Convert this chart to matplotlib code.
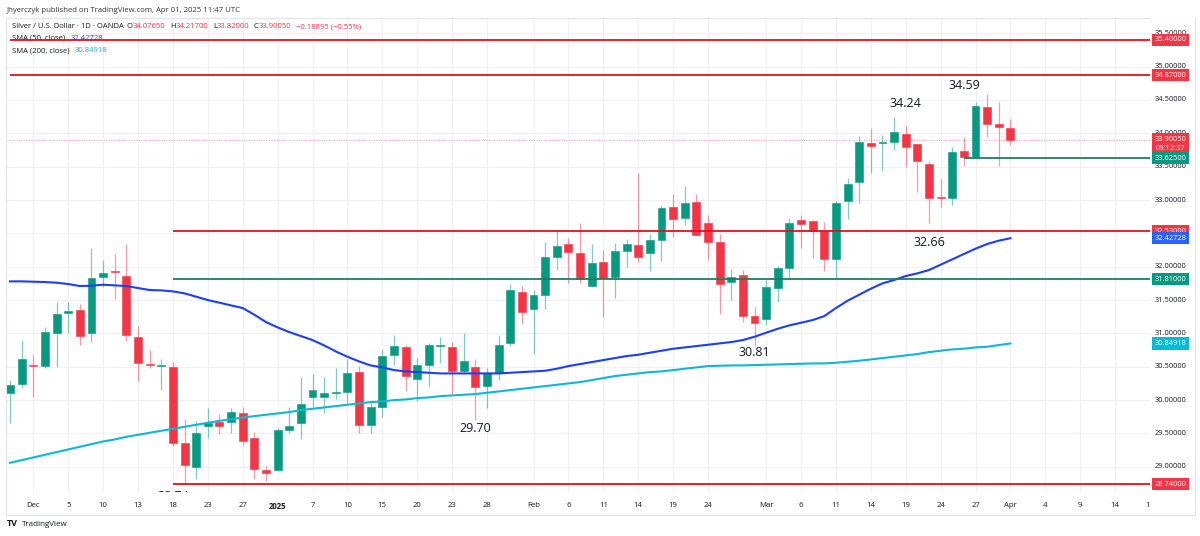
import matplotlib.pyplot as plt
import numpy as np
import pandas as pd

# ---- data (XAG/USD daily, OANDA) ----
open_ = [30.11, 30.24, 30.52, 30.515, 31.01, 31.305, 31.35, 31.0, 31.845, 31.94,
         31.86, 30.94, 30.54, 30.505, 30.5, 29.35, 29.0, 29.615, 29.675, 29.675,
         29.81, 29.43, 28.95, 28.95, 29.55, 29.66, 30.05, 30.05, 30.11, 30.125,
         30.415, 29.62, 29.9, 30.675, 30.79, 30.31, 30.525, 30.81, 30.79, 30.44,
         30.49, 30.215, 30.4, 30.86, 31.625, 31.365, 31.575, 32.15, 32.335, 32.205,
         31.715, 32.07, 31.85, 32.24, 32.325, 32.2, 32.4, 32.89, 32.725, 32.975,
         32.66, 32.375, 31.775, 31.875, 31.26, 31.21, 31.675, 31.985, 32.7, 32.685,
         32.535, 32.115, 32.99, 33.275, 33.85, 33.855, 33.865, 33.99, 33.84, 33.54,
         33.04, 33.025, 33.74, 33.65, 34.4, 34.135, 34.0765]
high = [30.30, 30.90, 30.675, 31.10, 31.475, 31.475, 31.435, 32.285, 32.10, 32.185,
        32.34, 31.11, 30.745, 30.61, 30.565, 29.71, 29.685, 29.875, 29.785, 29.875,
        29.89, 29.515, 29.015, 29.575, 29.9, 30.35, 30.385, 30.35, 30.475, 30.615,
        30.515, 29.975, 30.76, 30.975, 30.825, 30.625, 30.85, 30.95, 30.865, 31.01,
        30.615, 30.475, 30.975, 31.735, 31.71, 31.65, 32.375, 32.55, 32.425, 32.66,
        32.34, 32.25, 32.36, 32.415, 33.4, 32.49, 32.915, 33.085, 33.21, 33.085,
        32.775, 32.49, 31.96, 31.95, 31.4, 31.8, 32.015, 32.725, 32.775, 32.7,
        32.675, 32.99, 33.325, 33.96, 34.075, 33.975, 34.24, 34.11, 33.84, 33.59,
        33.31, 33.8, 33.94, 34.475, 34.59, 34.475, 34.217]
low = [29.65, 30.185, 30.05, 30.475, 30.49, 31.01, 30.825, 30.875, 31.70, 31.515,
       30.89, 30.29, 30.475, 30.15, 29.315, 28.735, 28.81, 29.425, 29.485, 29.5,
       29.325, 28.81, 28.785, 28.94, 29.5, 29.41, 29.9, 29.81, 30.01, 29.95,
       29.51, 29.51, 29.75, 30.525, 30.14, 29.99, 30.2, 30.56, 30.09, 30.39,
       29.70, 29.885, 30.3, 30.815, 31.14, 30.69, 31.365, 31.95, 31.76, 31.75,
       31.715, 31.25, 31.525, 32.0, 32.075, 31.93, 32.09, 32.45, 32.625, 32.475,
       32.1, 31.29, 31.5, 31.175, 30.81, 31.13, 31.475, 31.8, 32.275, 32.125,
       31.94, 31.815, 32.715, 32.95, 33.4, 33.44, 33.75, 33.49, 33.115, 32.66,
       32.9, 32.925, 33.515, 33.615, 33.94, 33.515, 33.82]
close = [30.225, 30.615, 30.51, 31.025, 31.295, 31.335, 30.965, 31.825, 31.91, 31.915,
         30.975, 30.55, 30.53, 30.53, 29.36, 29.025, 29.51, 29.65, 29.615, 29.815,
         29.39, 28.96, 28.90, 29.55, 29.61, 29.94, 30.15, 30.11, 30.125, 30.4,
         29.625, 29.9, 30.66, 30.81, 30.36, 30.525, 30.825, 30.82, 30.44, 30.59,
         30.2, 30.4, 30.83, 31.65, 31.325, 31.575, 32.14, 32.315, 32.215, 31.81,
         32.05, 31.825, 32.235, 32.34, 32.15, 32.4, 32.885, 32.71, 32.96, 32.475,
         32.365, 31.74, 31.85, 31.265, 31.15, 31.69, 31.975, 32.66, 32.64, 32.54,
         32.115, 32.95, 33.24, 33.865, 33.81, 33.875, 34.015, 33.8, 33.59, 33.035,
         33.025, 33.725, 33.65, 34.415, 34.135, 34.1, 33.9005]
sma50 = [31.78, 31.78, 31.775, 31.77, 31.76, 31.74, 31.71, 31.715, 31.73, 31.72,
         31.71, 31.68, 31.65, 31.645, 31.63, 31.6, 31.55, 31.5, 31.46, 31.42,
         31.38, 31.28, 31.17, 31.09, 31.02, 30.96, 30.9, 30.82, 30.73, 30.65,
         30.58, 30.52, 30.49, 30.45, 30.43, 30.42, 30.41, 30.4, 30.4, 30.4,
         30.4, 30.4, 30.4, 30.41, 30.42, 30.43, 30.44, 30.47, 30.51, 30.54,
         30.57, 30.6, 30.63, 30.66, 30.68, 30.71, 30.74, 30.77, 30.79, 30.81,
         30.83, 30.85, 30.87, 30.9, 30.95, 31.01, 31.07, 31.12, 31.16, 31.2,
         31.26, 31.38, 31.49, 31.58, 31.67, 31.75, 31.8, 31.86, 31.9, 31.95,
         32.03, 32.11, 32.19, 32.27, 32.34, 32.39, 32.427]
sma200 = [29.06, 29.1, 29.14, 29.18, 29.22, 29.26, 29.3, 29.34, 29.38, 29.41,
          29.45, 29.48, 29.51, 29.54, 29.57, 29.6, 29.63, 29.66, 29.69, 29.71,
          29.74, 29.76, 29.78, 29.8, 29.82, 29.85, 29.87, 29.89, 29.91, 29.93,
          29.95, 29.97, 29.98, 30.0, 30.01, 30.03, 30.04, 30.06, 30.07, 30.08,
          30.09, 30.11, 30.13, 30.15, 30.17, 30.19, 30.21, 30.23, 30.25, 30.27,
          30.3, 30.33, 30.36, 30.38, 30.4, 30.42, 30.43, 30.45, 30.47, 30.49,
          30.51, 30.515, 30.52, 30.52, 30.525, 30.53, 30.535, 30.54, 30.545, 30.55,
          30.55, 30.56, 30.575, 30.59, 30.61, 30.63, 30.65, 30.67, 30.69, 30.72,
          30.74, 30.76, 30.77, 30.79, 30.8, 30.825, 30.849]

# horizontal levels: (price, colour key, starting date)
levels = [(35.40, "red", "2024-11-28"), (34.87, "red", "2024-11-28"),
          (33.625, "green", "2025-03-26"), (32.53, "red", "2024-12-18"),
          (31.81, "green", "2024-12-18"), (28.74, "red", "2024-12-18")]

# swing labels: (text, date, label position)
swing_labels = [("34.59", "2025-03-26", 34.71), ("34.24", "2025-03-19", 34.45),
                ("32.66", "2025-03-21", 32.37), ("30.81", "2025-02-28", 30.71),
                ("29.70", "2025-01-27", 29.58), ("28.74", "2024-12-18", 28.55)]

tick_dates = ["2024-12-02", "2024-12-05", "2024-12-10", "2024-12-13", "2024-12-18",
              "2024-12-23", "2024-12-27", "2025-01-02", "2025-01-07", "2025-01-10",
              "2025-01-15", "2025-01-20", "2025-01-23", "2025-01-28", "2025-02-03",
              "2025-02-06", "2025-02-11", "2025-02-14", "2025-02-19", "2025-02-24",
              "2025-03-03", "2025-03-06", "2025-03-11", "2025-03-14", "2025-03-19",
              "2025-03-24", "2025-03-27", "2025-04-01", "2025-04-04", "2025-04-09",
              "2025-04-14", "2025-04-17"]
tick_labels = ["Dec", "5", "10", "13", "18", "23", "27", "2025", "7", "10", "15", "20",
               "23", "28", "Feb", "6", "11", "14", "19", "24", "Mar", "6", "11", "14",
               "19", "24", "27", "Apr", "4", "9", "14", "17"]
price_ticks = [29.0, 29.5, 30.0, 30.5, 31.0, 31.5, 32.0, 32.5, 33.0, 33.5, 34.0, 34.5, 35.0, 35.5]

# trading calendar (forex session: weekdays, Christmas / New Year closed)
days = pd.bdate_range("2024-11-28", "2025-04-18")
days = days[~days.isin(pd.to_datetime(["2024-12-25", "2025-01-01"]))]
pos_of = {d.strftime("%Y-%m-%d"): i - 2 for i, d in enumerate(days)}
x = np.array([pos_of[d.strftime("%Y-%m-%d")] for d in days[:len(close)]])

UP, DOWN = "#089981", "#f23645"
LRED, LGREEN = "#e3101d", "#1f7d60"
BLUE, CYAN = "#1e3ef5", "#12b6d4"
INK = "#131722"
plt.rcParams["font.family"] = ["Open Sans", "DejaVu Sans"]

W, H = 1200, 536
PX = 66.7          # pixels per 1.0 price unit
Y0 = 266.7         # pixel row of 32.00


def rect(x0, y0, x1, y1):
    return [x0 / W, 1 - y1 / H, (x1 - x0) / W, (y1 - y0) / H]


def price_at(py):
    return 32 - (py - Y0) / PX


fig = plt.figure(figsize=(W / 100, H / 100), dpi=100)
ax = fig.add_axes(rect(6, 18, 1150, 492))
ax.set_xlim(-2.35, 96.0)
ax.set_ylim(price_at(492), price_at(18))
for s in ax.spines.values():
    s.set_visible(False)

# grid + time axis
pos_ticks = [pos_of[d] for d in tick_dates]
ax.set_xticks(pos_ticks)
ax.set_xticklabels(tick_labels, fontsize=5.6, color=INK)
for lbl, t in zip(ax.get_xticklabels(), tick_labels):
    if t == "2025":
        lbl.set_fontweight("bold")
ax.tick_params(axis="x", length=0, pad=7)
ax.set_yticks([])
for p in pos_ticks:
    ax.axvline(p, color="#eef0f4", lw=0.8, zorder=0)
for p in price_ticks:
    ax.axhline(p, color="#eef0f4", lw=0.8, zorder=0)

# candles
o, h, l, c = map(np.array, (open_, high, low, close))
col = np.where(c >= o, UP, DOWN)
ax.vlines(x, l, h, colors=col, lw=0.9, alpha=0.5, zorder=2)
body = np.maximum(np.abs(c - o), 0.012)
ax.bar(x, body, bottom=np.minimum(o, c), width=0.68, color=col, edgecolor=col,
       linewidth=0.4, zorder=3)

# moving averages
ax.plot(x, sma50, color=BLUE, lw=1.5, zorder=4)
ax.plot(x, sma200, color=CYAN, lw=1.5, zorder=4)

# levels
for price, key, start in levels:
    ax.hlines(price, pos_of[start], 96.0, colors=LRED if key == "red" else LGREEN,
              lw=1.3, zorder=6)
ax.axhline(close[-1], color=DOWN, lw=0.6, ls=(0, (1, 2)), alpha=0.6, zorder=1)

for txt, d, yp in swing_labels:
    ax.text(pos_of[d], yp, txt, fontsize=9, color=INK, ha="center", va="center",
            zorder=7, clip_on=True)

# legend header inside the pane: (text, colour, gap in px before it)
header = [
    [("Silver / U.S. Dollar · 1D · OANDA", INK, 0), ("O", INK, 3), ("34.07650", DOWN, 0),
     ("H", INK, 5), ("34.21700", DOWN, 0), ("L", INK, 4), ("33.82000", DOWN, 0),
     ("C", INK, 4), ("33.90050", DOWN, 0), ("−0.18895 (−0.55%)", DOWN, 5)],
    [("SMA (50, close)", INK, 0), ("32.42728", BLUE, 5)],
    [("SMA (200, close)", INK, 0), ("30.84918", CYAN, 5)],
]
for row, py in zip(header, [26.5, 38.5, 50.5]):
    s, cc, _ = row[0]
    t = ax.text(12 / W, 1 - py / H, s, color=cc, fontsize=5.5, transform=fig.transFigure,
                va="center", ha="left", zorder=5)
    for s, cc, gap in row[1:]:
        t = ax.annotate(s, xy=(1, 0.5), xycoords=t, xytext=(gap * 0.72, 0),
                        textcoords="offset points", color=cc, fontsize=5.5,
                        va="center", ha="left", zorder=5)

# price scale
pax = fig.add_axes(rect(1150, 18, 1195, 515), zorder=2)
pax.set_facecolor("white")
pax.set_xlim(0, 1)
pax.set_ylim(price_at(515), price_at(18))
pax.set_xticks([])
pax.set_yticks([])
for s in pax.spines.values():
    s.set_visible(False)
for p in price_ticks:
    pax.text(0.46, p, f"{p:.5f}", fontsize=5.4, color=INK, ha="center", va="center")

boxes = [(35.40, "35.40000", DOWN), (34.87, "34.87000", DOWN),
         (price_at(144), "33.90050\n09:12:37", DOWN), (33.625, "33.62500", UP),
         (32.53, "32.53000", DOWN), (32.42728, "32.42728", "#2962ff"),
         (31.81, "31.81000", UP), (30.84918, "30.84918", "#00bcd4"),
         (28.74, "28.74000", DOWN)]
for p, s, fc in boxes:
    pax.text(0.45, p, s, fontsize=5.4, color="white", ha="center", va="center",
             linespacing=1.5, bbox=dict(boxstyle="square,pad=0.35", fc=fc, ec="none"))

# outer frame, credit line, footer
fig.patches.append(plt.Rectangle((6 / W, 1 - 515 / H), 1189 / W, 497 / H,
                                 transform=fig.transFigure, fill=False,
                                 ec="#e0e3eb", lw=0.8))
fig.text(7 / W, 1 - 10 / H, "Jhyerczyk published on TradingView.com, Apr 01, 2025 11:47 UTC",
         fontsize=5.6, color="#333333", va="center", ha="left")
fig.text(7 / W, 1 - 524 / H, "TV", fontsize=6.5, fontweight="bold", color=INK,
         va="center", ha="left")
fig.text(22 / W, 1 - 524 / H, "TradingView", fontsize=5.8, color=INK,
         va="center", ha="left")

fig.savefig("out.png", dpi=100, facecolor="white")
